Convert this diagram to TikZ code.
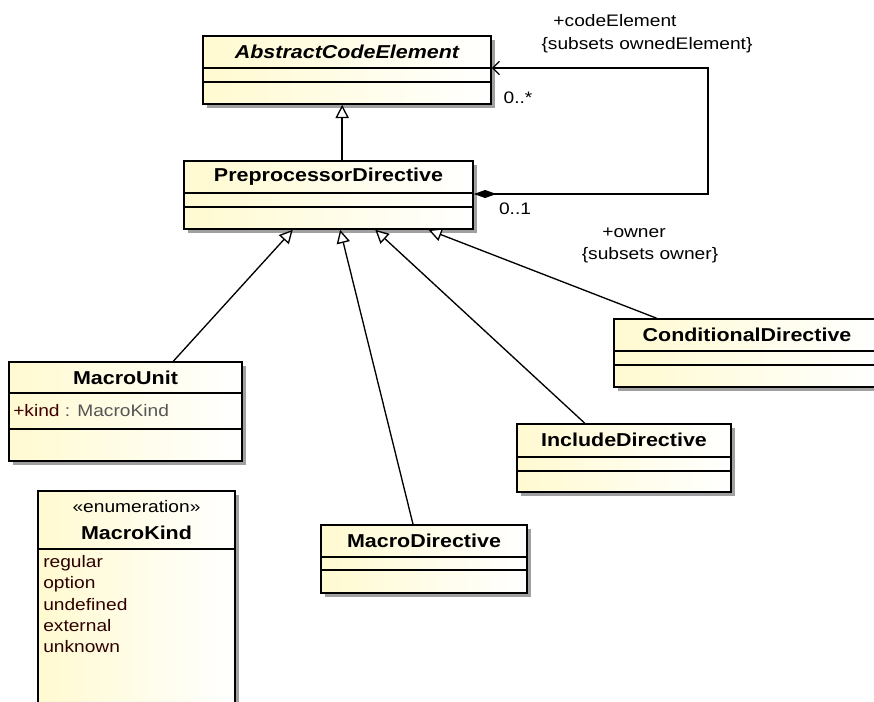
\documentclass[tikz,border=0pt]{standalone}
\usepackage{fontspec}
\setmainfont{Liberation Sans}[FakeStretch=1.15]
\usepackage{tikz}
\usetikzlibrary{arrows.meta,calc,fit,shadows}
\definecolor{classfill}{HTML}{FFFAD0}
\definecolor{shadowgray}{HTML}{A0A0A0}
\definecolor{attrred}{HTML}{400000}
\definecolor{typegray}{HTML}{555555}
\tikzset{
  classbox/.style={draw,line width=1.2pt,inner sep=0pt,left color=classfill,right color=white,
    drop shadow={shadow xshift=3pt,shadow yshift=-3pt,fill=shadowgray,opacity=1}},
  classname/.style={font=\fontsize{14}{16}\selectfont\bfseries},
  plaintext/.style={font=\fontsize{12.5}{14}\selectfont},
  gen/.style={line width=1pt,-{Triangle[open,length=10pt,width=10pt,fill=white]}},
  comp/.style={line width=1pt,{Diamond[length=17pt,width=6pt]}-{Straight Barb[length=5pt,width=10pt]}}
}

\begin{document}
\begin{tikzpicture}[x=0.75pt,y=-0.75pt]
    \useasboundingbox (0,0) rectangle (874,702);
    \clip (0,0) rectangle (874,702);
    % classes
    \node[classbox,fit={(203,36) (491,104)}] (ace) {};
    \node[classbox,fit={(184,161) (473,229)}] (ppd) {};
    \node[classbox,fit={(9,362) (242,461)}] (mu) {};
    \node[classbox,fit={(38,491) (235,730)}] (mk) {};
    \node[classbox,fit={(614,319) (880,387)}] (cd) {};
    \node[classbox,fit={(517,424) (731,492)}] (id) {};
    \node[classbox,fit={(321,525) (527,593)}] (md) {};
    % compartments
    \foreach \n/\a/\b in {ace/68/82,ppd/193/207,mu/393/429,cd/351/365,id/457/471,md/557/570}{
      \draw[line width=1pt] (\n.west |- 0,\a) -- (\n.east |- 0,\a);
      \draw[line width=1pt] (\n.west |- 0,\b) -- (\n.east |- 0,\b);
    }
    \draw[line width=1pt] (mk.west |- 0,549) -- (mk.east |- 0,549);
    % names
    \node[classname,font=\fontsize{14}{16}\selectfont\bfseries\itshape] (ace-name) at (ace.center |- 0,52) {AbstractCodeElement};
    \node[classname] (ppd-name) at (ppd.center |- 0,177) {PreprocessorDirective};
    \node[classname] (mu-name) at (mu.center |- 0,378) {MacroUnit};
    \node[plaintext] (mk-stereo) at (mk.center |- 0,507) {«enumeration»};
    \node[classname] (mk-name) at (mk.center |- 0,533) {MacroKind};
    \node[classname] (cd-name) at (cd.center |- 0,335) {ConditionalDirective};
    \node[classname] (id-name) at (id.center |- 0,440) {IncludeDirective};
    \node[classname] (md-name) at (md.center |- 0,541) {MacroDirective};
    % attributes and literals
    \node[plaintext,anchor=west,inner sep=0pt] (mu-kind) at (13,411) {\textcolor{attrred}{+kind} \textcolor{typegray}{: MacroKind}};
    \foreach \lit [count=\i] in {regular,option,undefined,external,unknown}{
      \node[plaintext,anchor=west,inner sep=0pt,text=attrred!70!black] (mk-lit\i) at (43,542+21*\i) {\lit};
    }
    % generalizations
    \draw[gen] ($(ppd.north west)!0.547!(ppd.north east)$) coordinate (ppd-top) -- (ppd-top |- ace.south);
    \draw[gen] ($(mu.north west)!0.704!(mu.north east)$) -- ($(ppd.south west)!0.377!(ppd.south east)$);
    \draw[gen] ($(md.north west)!0.447!(md.north east)$) -- ($(ppd.south west)!0.540!(ppd.south east)$);
    \draw[gen] ($(id.north west)!0.318!(id.north east)$) -- ($(ppd.south west)!0.661!(ppd.south east)$);
    \draw[gen] ($(cd.north west)!0.162!(cd.north east)$) -- ($(ppd.south west)!0.844!(ppd.south east)$);
    % composition
    \coordinate (loop) at (708,0);
    \draw[comp] (ppd.east |- 0,194) coordinate (ppd-out) -- (ppd-out -| loop) -- (loop |- 0,68) -- (ace.east |- 0,68);
    \node[plaintext] (role-ce) at (615,21) {+codeElement};
    \node[plaintext] (subs-ce) at (647,45) {\{subsets ownedElement\}};
    \node[plaintext] (mult-ce) at (518,98) {0..*};
    \node[plaintext] (mult-ow) at (515,209) {0..1};
    \node[plaintext] (role-ow) at (634,233) {+owner};
    \node[plaintext] (subs-ow) at (650,255) {\{subsets owner\}};
  \end{tikzpicture}
\end{document}
